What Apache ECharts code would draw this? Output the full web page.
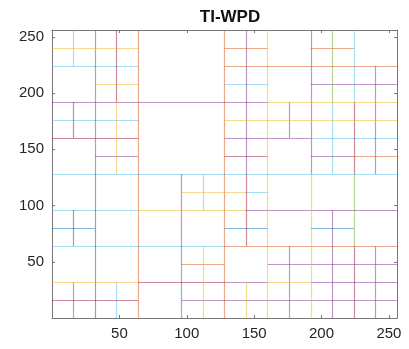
<!DOCTYPE html>
<html>
<head>
<meta charset="utf-8">
<script src="https://cdn.jsdelivr.net/npm/echarts@6/dist/echarts.min.js"></script>
<style>html,body{margin:0;padding:0;background:#fff;}#c{width:409px;height:349px;}</style>
</head>
<body>
<div id="c"></div>
<script>
// ---- data (segments [x1, y1, x2, y2] in data units, grouped by drawn colour) ----
const titleText = 'TI-WPD';
const xTicks = [50, 100, 150, 200, 250];
const yTicks = [50, 100, 150, 200, 250];
const axisRange = [0, 256];

const segLightBlue = [
  [16,224,16,256],[48,0,48,32],[112,96,112,128],[208,128,208,192],[224,192,224,256],
  [0,224,64,224],[128,208,160,208],[0,176,64,176],[0,128,256,128],[144,112,160,112],
  [0,96,64,96],[0,64,128,64],[192,160,256,160]
];
const segBlue = [
  [16,0,16,32],[96,0,96,64],[176,0,176,64],
  [0,80,32,80],[128,80,160,80],[192,80,224,80]
];
const segRed = [
  [16,160,16,192],[16,64,16,96],[48,192,48,256],[144,64,144,128],[224,128,224,192],[224,0,224,64],[32,0,32,128],
  [0,160,64,160],[128,144,160,144],[64,32,128,32],[0,16,64,16]
];
const segPurple = [
  [32,128,32,256],[96,64,96,128],[144,128,144,256],[176,160,176,192],[192,128,192,256],[208,0,208,96],[240,128,240,224],[240,0,240,64],
  [32,144,64,144],[0,192,160,192],[192,208,256,208],[128,160,192,160],[192,144,224,144],[144,96,256,96],[160,48,256,48],[128,32,160,32],[192,32,256,32],[96,16,256,16]
];
const segOrange = [
  [64,0,64,256],[128,0,128,256],
  [128,240,160,240],[192,240,224,240],[128,224,256,224],[224,144,256,144],[128,64,256,64],[96,48,128,48]
];
const segYellow = [
  [48,128,48,192],[112,0,112,64],[144,0,144,32],[160,0,160,256],[192,0,192,128],
  [0,240,64,240],[32,208,64,208],[160,192,256,192],[128,176,256,176],[96,112,144,112],[64,96,144,96],[0,32,64,32],[160,32,192,32]
];
const segGreen = [
  [208,192,208,256],[224,64,224,128]
];

// ---- styles ----
const groups = [
  {name:'lightblue', segs:segLightBlue, color:'#4DBEEE'},
  {name:'blue', segs:segBlue, color:'#0072BD'},
  {name:'red', segs:segRed, color:'#A2142F'},
  {name:'purple', segs:segPurple, color:'#7E2F8E'},
  {name:'orange', segs:segOrange, color:'#D95319'},
  {name:'yellow', segs:segYellow, color:'#EDB120'},
  {name:'green', segs:segGreen, color:'#77AC30'}
];

const series = groups.map(g => ({
  type: 'lines',
  name: g.name,
  coordinateSystem: 'cartesian2d',
  silent: true,
  polyline: false,
  lineStyle: {color: g.color, width: 1.2, opacity: 0.5},
  data: g.segs.map(s => ({coords: [[s[0], s[1]], [s[2], s[3]]]}))
}));

const axisColor = '#777';
const labFmt = ticks => v => ticks.indexOf(v) >= 0 ? String(v) : '';
function mkAxis(pos, ticks, showLabel) {
  return {
    type: 'value', position: pos, min: axisRange[0], max: axisRange[1], interval: 50,
    splitLine: {show: false},
    axisLine: {show: true, onZero: false, lineStyle: {color: axisColor, width: 1}},
    axisTick: {show: true, inside: true, length: 3, lineStyle: {color: axisColor}},
    axisLabel: {show: showLabel, formatter: labFmt(ticks), color: '#262626', fontSize: 15,
                fontFamily: 'Liberation Sans, Arial, sans-serif', margin: 8}
  };
}

const chart = echarts.init(document.getElementById('c'), null, {renderer: 'canvas'});
chart.setOption({
  animation: false,
  backgroundColor: '#fff',
  title: {text: titleText, left: 225, top: 4, textAlign: 'center',
          textStyle: {fontSize: 17, fontWeight: 'bold', color: '#111', fontFamily: 'Liberation Sans, Arial, sans-serif'}},
  grid: {left: 52, right: 12, top: 30, bottom: 31, containLabel: false},
  xAxis: [mkAxis('bottom', xTicks, true), mkAxis('top', xTicks, false)],
  yAxis: [mkAxis('left', yTicks, true), mkAxis('right', yTicks, false)],
  series: series
});
</script>
</body>
</html>
